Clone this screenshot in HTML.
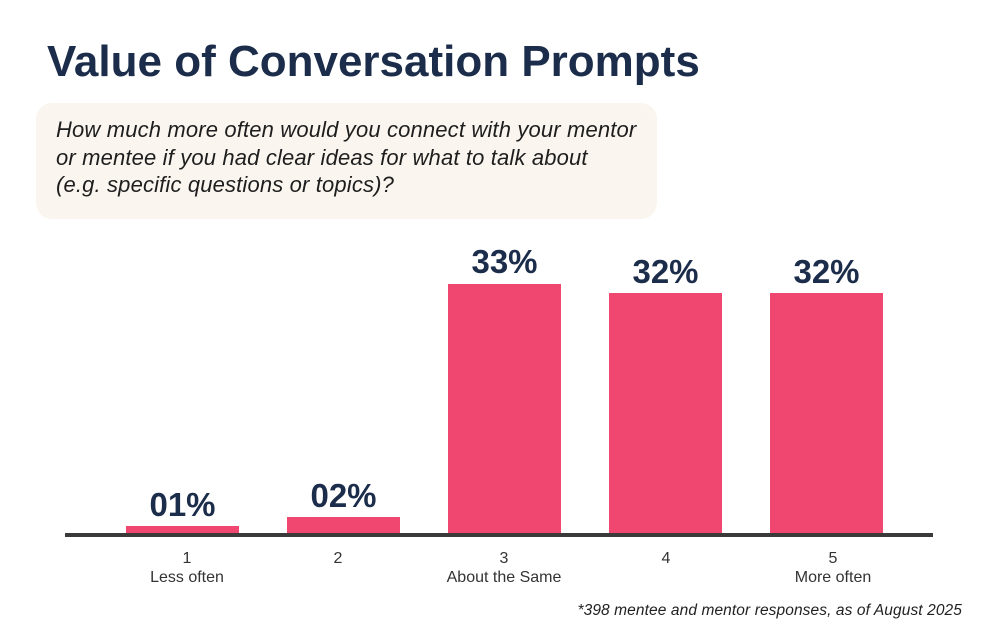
<!DOCTYPE html>
<html><head><meta charset="utf-8"><style>
body{margin:0;width:1000px;height:641px;background:#fff;position:relative;overflow:hidden;font-family:"Liberation Sans",sans-serif;}
.t{position:absolute;left:47px;top:37px;font-size:44px;font-weight:bold;color:#1b2d4a;letter-spacing:0px;}
.box{position:absolute;left:36px;top:103px;width:621px;height:116px;background:#faf6ef;border-radius:16px;}
.q{position:absolute;left:56px;top:116px;font-size:22px;font-style:italic;color:#1e1e1e;line-height:27.5px;letter-spacing:0.15px;}
.bar{position:absolute;background:#ef476f;width:113px;}
.v{position:absolute;width:113px;text-align:center;font-size:33px;font-weight:bold;color:#1b2d4a;}
.ax{position:absolute;left:65px;top:533px;width:868px;height:4px;background:#3a3a3a;}
.l{position:absolute;width:200px;text-align:center;font-size:16px;color:#333;line-height:19px;}
.f{position:absolute;right:38px;top:602px;font-size:15.5px;font-style:italic;color:#222;letter-spacing:0.1px;}
</style></head><body>
<div class="t">Value of Conversation Prompts</div>
<div class="box"></div>
<div class="q">How much more often would you connect with your mentor<br>or mentee if you had clear ideas for what to talk about<br>(e.g. specific questions or topics)?</div>
<div class="bar" style="left:126px;top:526px;height:8px"></div>
<div class="bar" style="left:287px;top:517px;height:17px"></div>
<div class="bar" style="left:448px;top:284px;height:250px"></div>
<div class="bar" style="left:609px;top:293px;height:241px"></div>
<div class="bar" style="left:770px;top:293px;height:241px"></div>
<div class="v" style="left:126px;top:486px">01%</div>
<div class="v" style="left:287px;top:477px">02%</div>
<div class="v" style="left:448px;top:243px">33%</div>
<div class="v" style="left:609px;top:253px">32%</div>
<div class="v" style="left:770px;top:253px">32%</div>
<div class="ax"></div>
<div class="l" style="left:87px;top:549px">1<br>Less often</div>
<div class="l" style="left:238px;top:549px">2</div>
<div class="l" style="left:404px;top:549px">3<br>About the Same</div>
<div class="l" style="left:566px;top:549px">4</div>
<div class="l" style="left:733px;top:549px">5<br>More often</div>
<div class="f">*398 mentee and mentor responses, as of August 2025</div>
</body></html>
